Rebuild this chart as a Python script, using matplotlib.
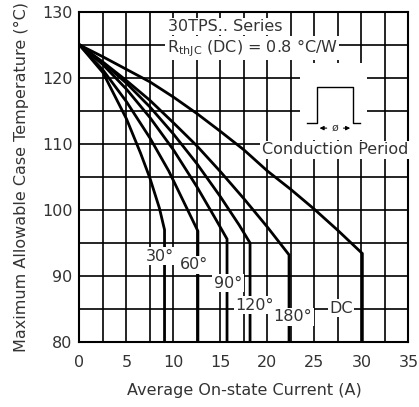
import matplotlib
matplotlib.use("Agg")
from matplotlib import pyplot as plt
from matplotlib.patches import Rectangle

plt.rcParams['font.family'] = ['DejaVu Sans']

# curve data (current A, case temperature C)
i_30 = [0, 2.5, 5.0, 6.5, 7.5, 8.5, 9.05, 9.05]
t_30 = [125, 120.8, 113.8, 108.6, 104.8, 100.3, 97.0, 80]

i_60 = [0, 2.5, 5.0, 7.5, 9.5, 11.0, 12.6, 12.6]
t_60 = [125, 121.2, 116.4, 110.9, 105.9, 101.5, 96.8, 80]

i_90 = [0, 2.5, 5.0, 7.5, 10.0, 12.5, 14.5, 15.7, 15.7]
t_90 = [125, 122.0, 118.3, 114.0, 109.1, 103.5, 98.6, 95.6, 80]

i_120 = [0, 2.5, 5.0, 7.5, 10.0, 12.5, 15.0, 17.0, 18.15, 18.15]
t_120 = [125, 122.3, 119.2, 115.6, 111.5, 107.0, 102.0, 97.7, 95.0, 80]

i_180 = [0, 2.5, 5.0, 7.5, 10.0, 12.5, 15.0, 17.5, 20.0, 22.3, 22.3]
t_180 = [125, 122.4, 119.6, 116.6, 113.2, 109.7, 105.8, 101.7, 97.4, 93.2, 80]

i_dc = [0, 2.5, 5.0, 7.5, 10.0, 12.5, 15.0, 17.5, 20.0, 22.5, 25.0, 27.5, 30.1, 30.1]
t_dc = [125, 123.2, 121.3, 119.4, 117.1, 114.6, 111.9, 109.1, 105.9, 103.1, 100.1, 96.9, 93.4, 80]

curves = [(i_30, t_30), (i_60, t_60), (i_90, t_90), (i_120, t_120), (i_180, t_180), (i_dc, t_dc)]

# labels for the curves and where they sit
curve_labels = ['30°', '60°', '90°', '120°', '180°', 'DC']
label_x = [8.6, 12.2, 15.8, 18.6, 22.7, 27.8]
label_y = [93.0, 91.7, 88.9, 85.6, 83.8, 85.1]

x_ticks = [0, 5, 10, 15, 20, 25, 30, 35]
y_ticks = [80, 90, 100, 110, 120, 130]

TXT = '#333333'
FS = 11.5


def main():
    fig = plt.figure(figsize=(4.19, 4.07), dpi=100)
    ax = fig.add_axes([0.1897, 0.1597, 0.785, 0.811])

    ax.set_xlim(0, 35)
    ax.set_ylim(80, 130)

    # grid every 2.5 A and every 5 C
    for gx in [k * 2.5 for k in range(1, 14)]:
        ax.axvline(gx, color='black', lw=1.2, zorder=1)
    for gy in range(85, 130, 5):
        ax.axhline(gy, color='black', lw=1.2, zorder=1)

    for xs, ys in curves:
        ax.plot(xs, ys, color='black', lw=2.0, zorder=3, solid_joinstyle='miter')

    ax.set_xticks(x_ticks)
    ax.set_yticks(y_ticks)
    ax.tick_params(length=0, labelsize=FS, colors=TXT)
    ax.tick_params(axis='x', pad=9)
    ax.tick_params(axis='y', pad=5)
    for s in ax.spines.values():
        s.set_linewidth(1.5)

    ax.set_xlabel('Average On-state Current (A)', fontsize=FS, color=TXT, labelpad=10)
    ax.set_ylabel('Maximum Allowable Case Temperature (°C)', fontsize=FS, color=TXT, labelpad=9)

    box = dict(facecolor='white', edgecolor='none', pad=1.0)
    for txt, lx, ly in zip(curve_labels, label_x, label_y):
        ax.text(lx, ly, txt, ha='center', va='center', fontsize=FS, color=TXT, bbox=box, zorder=5)

    ax.text(9.45, 127.8, '30TPS.. Series', ha='left', va='center', fontsize=FS, color=TXT,
            bbox=box, zorder=5)
    ax.text(9.3, 124.5, r'R$_{\rm thJC}$ (DC) = 0.8 °C/W', ha='left', va='center', fontsize=FS,
            color=TXT, bbox=box, zorder=5)

    # conduction period sketch
    ax.add_patch(Rectangle((23.5, 110.6), 7.1, 11.7, facecolor='white', edgecolor='none', zorder=2))
    ax.plot([24.2, 25.25, 25.25, 29.1, 29.1, 29.9], [113.1, 113.1, 118.7, 118.7, 113.1, 113.1],
            color='black', lw=1.0, zorder=4)
    ax.annotate('', xy=(25.25, 112.4), xytext=(26.6, 112.4),
                arrowprops=dict(arrowstyle='-|>', color='black', lw=0.8, mutation_scale=6), zorder=4)
    ax.annotate('', xy=(29.1, 112.4), xytext=(27.8, 112.4),
                arrowprops=dict(arrowstyle='-|>', color='black', lw=0.8, mutation_scale=6), zorder=4)
    ax.text(27.2, 112.5, 'ø', ha='center', va='center', fontsize=8, color=TXT, zorder=5)
    ax.text(27.2, 109.1, 'Conduction Period', ha='center', va='center', fontsize=FS,
            color=TXT, bbox=box, zorder=5)

    plt.savefig('out.png', dpi=100)


if __name__ == '__main__':
    main()
